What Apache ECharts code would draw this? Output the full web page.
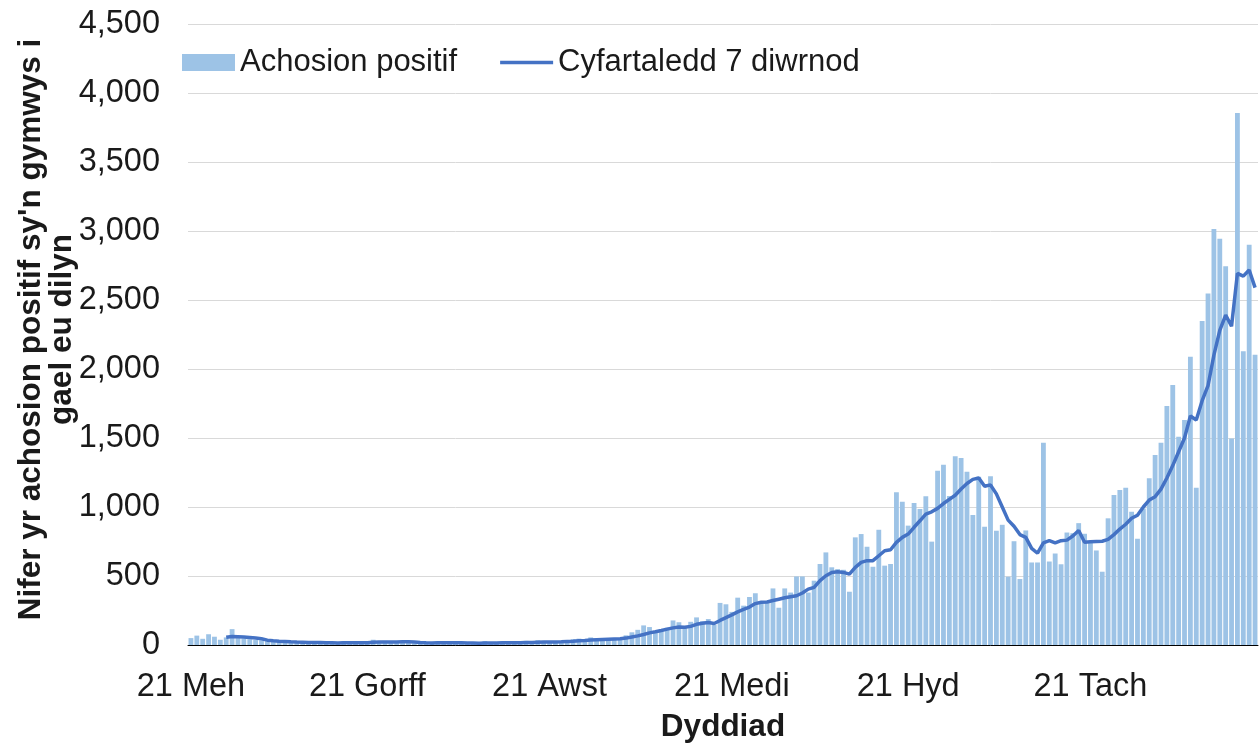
<!DOCTYPE html>
<html>
<head>
<meta charset="utf-8">
<script src="https://cdn.jsdelivr.net/npm/echarts@6/dist/echarts.min.js"></script>
<style>
  html, body { margin: 0; padding: 0; background: #fff; }
  #chart { width: 1259px; height: 744px; }
</style>
</head>
<body>
<div id="chart"></div>
<script>
// misoedd (Cymraeg) ar gyfer labeli'r echelin x
const monthNames = ['Ion', 'Chwef', 'Maw', 'Ebr', 'Mai', 'Meh', 'Gorff', 'Awst', 'Medi', 'Hyd', 'Tach', 'Rhag'];
const tickLabels = ['21 Meh', '21 Gorff', '21 Awst', '21 Medi', '21 Hyd', '21 Tach'];
const firstDay = [2021, 5, 21];
const dayCount = 182;

// achosion positif dyddiol, 21 Meh ymlaen
const positiveCases = [
  50, 68, 45, 78, 60, 38, 55, 115, 62, 48,
  42, 36, 34, 28, 24, 22, 24, 20, 18, 16,
  14, 12, 15, 10, 12, 14, 28, 12, 10, 15,
  20, 38, 22, 30, 18, 14, 25, 22, 12, 10,
  8, 12, 24, 28, 20, 10, 8, 9, 12, 10,
  28, 14, 10, 26, 12, 10, 16, 30, 18, 35,
  22, 20, 26, 24, 30, 42, 46, 40, 55, 38,
  36, 48, 42, 46, 70, 92, 110, 142, 130, 100,
  112, 125, 178, 165, 130, 168, 200, 172, 188, 145,
  305, 295, 240, 343, 285, 348, 375, 300, 318, 410,
  270, 410, 380, 497, 497, 380, 466, 587, 671, 563,
  550, 545, 386, 780, 804, 712, 567, 835, 575, 587,
  1106, 1038, 865, 1029, 985, 1077, 749, 1263, 1306, 1080,
  1367, 1355, 1256, 942, 1220, 857, 1222, 828, 871, 495,
  752, 478, 830, 598, 598, 1466, 605, 663, 585, 815,
  810, 883, 806, 748, 685, 531, 918, 1087, 1123, 1140,
  966, 770, 990, 1208, 1377, 1466, 1732, 1884, 1509, 1630,
  2089, 1140, 2347, 2548, 3014, 2944, 2744, 1497, 3855, 2128,
  2900, 2104
];

// cyfartaledd 7 diwrnod (wedi'i ddarllen o'r llun)
const sevenDayAvg = [
  null, null, null, null, null, null, 56, 62, 60, 58,
  55, 50, 45, 35, 31, 28, 26, 23, 21, 20,
  19, 18, 18, 17, 16, 15, 16, 16, 16, 16,
  17, 20, 21, 22, 22, 22, 23, 23, 21, 18,
  16, 15, 16, 17, 17, 16, 16, 15, 14, 13,
  14, 14, 15, 16, 16, 16, 17, 19, 19, 20,
  21, 22, 22, 23, 25, 27, 30, 32, 36, 38,
  40, 42, 44, 46, 50, 58, 66, 76, 88, 96,
  105, 115, 124, 130, 128, 135, 150, 157, 163, 156,
  178, 198, 218, 240, 258, 275, 300, 310, 312, 322,
  332, 342, 350, 357, 377, 405, 418, 466, 502, 526,
  531, 526, 514, 563, 599, 611, 611, 647, 683, 690,
  744, 780, 804, 853, 900, 949, 965, 990, 1025, 1055,
  1085, 1130, 1170, 1200, 1210, 1150, 1160, 1095, 1000, 905,
  860, 800, 780, 700, 665, 740, 756, 740, 756, 760,
  790, 830, 745, 748, 750, 752, 765, 800, 840, 875,
  918, 940, 1000, 1050, 1075, 1130, 1210, 1300, 1400, 1500,
  1659, 1630, 1770, 1880, 2100, 2280, 2391, 2310, 2693, 2673,
  2717, 2590
];

let categories = [];
for (let i = 0; i < dayCount; i++) {
  let d = new Date(firstDay[0], firstDay[1], firstDay[2] + i);
  categories.push(d.getDate() + ' ' + monthNames[d.getMonth()]);
}

const font = '"Liberation Sans", Arial, sans-serif';
const isTick = (idx, value) => tickLabels.indexOf(value) >= 0;

let chart = echarts.init(document.getElementById('chart'));
let option = {
  animation: false,
  textStyle: { fontFamily: font },
  grid: { left: 188, right: 1, top: 24, bottom: 99, outerBoundsMode: 'none' },
  legend: {
    left: 177,
    top: 42,
    itemWidth: 53,
    itemHeight: 17,
    itemGap: 43,
    textStyle: { fontSize: 31, color: '#1a1a1a', fontFamily: font },
    data: [
      { name: 'Achosion positif', icon: 'rect' },
      { name: 'Cyfartaledd 7 diwrnod', icon: 'path://M0,0 L53,0 L53,3.5 L0,3.5 Z' }
    ]
  },
  xAxis: {
    type: 'category',
    data: categories,
    name: 'Dyddiad',
    nameLocation: 'middle',
    nameGap: 66,
    nameMoveOverlap: false,
    nameTextStyle: { fontSize: 31.5, fontWeight: 'bold', color: '#1a1a1a', fontFamily: font },
    axisLine: { lineStyle: { color: '#000', width: 1 } },
    axisTick: { interval: isTick, length: 8, lineStyle: { color: '#000' } },
    axisLabel: { interval: isTick, margin: 26, fontSize: 32.5, color: '#1a1a1a', fontFamily: font },
    splitLine: { show: false }
  },
  yAxis: {
    type: 'value',
    min: 0,
    max: 4500,
    interval: 500,
    name: "Nifer yr achosion positif sy'n gymwys i\ngael eu dilyn",
    nameLocation: 'middle',
    nameRotate: 90,
    nameGap: 110,
    nameMoveOverlap: false,
    nameTextStyle: {
      fontSize: 31.5,
      fontWeight: 'bold',
      lineHeight: 31,
      padding: [0, 0, 0, 10],
      color: '#1a1a1a',
      fontFamily: font
    },
    axisLine: { show: false },
    axisTick: { show: false },
    axisLabel: {
      margin: 28,
      fontSize: 32.5,
      color: '#1a1a1a',
      fontFamily: font,
      formatter: v => v.toLocaleString('en-US')
    },
    splitLine: { lineStyle: { color: '#d9d9d9', width: 1 } }
  },
  series: [
    {
      name: 'Achosion positif',
      type: 'bar',
      data: positiveCases,
      barCategoryGap: '18%',
      itemStyle: { color: '#9dc3e6' }
    },
    {
      name: 'Cyfartaledd 7 diwrnod',
      type: 'line',
      data: sevenDayAvg,
      symbol: 'none',
      lineStyle: { color: '#4472c4', width: 3.5 },
      itemStyle: { color: '#4472c4' }
    }
  ]
};
chart.setOption(option);
</script>
</body>
</html>
